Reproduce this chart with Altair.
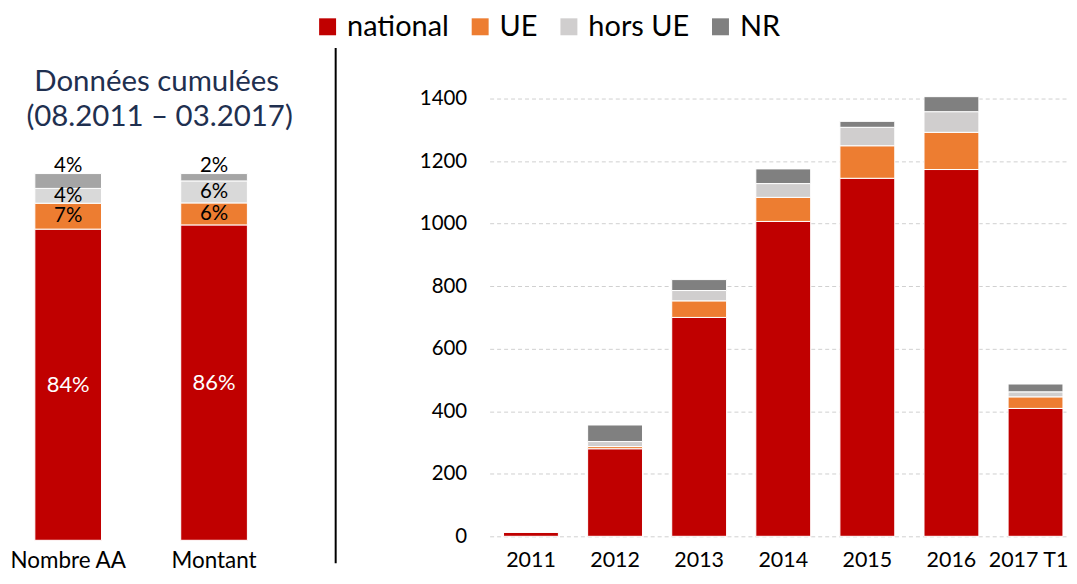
import altair as alt
import pandas as pd

FONT = "Lato"

# ---------------- data ----------------
series = ["national", "UE", "hors UE", "NR"]

left_cats = ["Nombre AA", "Montant"]
nombre_pct = [84, 7, 4, 4]
montant_pct = [86, 6, 6, 2]

years = ["2011", "2012", "2013", "2014", "2015", "2016", "2017 T1"]
national = [14, 280, 700, 1007, 1145, 1173, 409]
ue = [0, 7, 53, 77, 104, 119, 37]
hors_ue = [0, 16, 33, 44, 59, 66, 16]
nr = [0, 53, 35, 47, 19, 48, 25]

title_line1 = "Données cumulées"
title_line2 = "(08.2011 – 03.2017)"

right_colors = ["#C00000", "#ED7D31", "#D0CECE", "#808080"]
left_colors = ["#C00000", "#ED7D31", "#D9D9D9", "#A5A5A5"]

# ---------------- tables ----------------
left_rows = []
for cat, vals in zip(left_cats, [nombre_pct, montant_pct]):
    for i, (s, v) in enumerate(zip(series, vals)):
        left_rows.append({"cat": cat, "serie_l": s, "ord": i, "pct": v})
left_df = pd.DataFrame(left_rows)

right_rows = []
for j, y in enumerate(years):
    for i, (s, vals) in enumerate(zip(series, [national, ue, hors_ue, nr])):
        right_rows.append({"year": y, "serie": s, "ord": i, "val": vals[j]})
right_df = pd.DataFrame(right_rows)

# ---------------- left panel ----------------
LW, LH = 267, 443
LDOM = [0, 1.2046]
left_x = alt.X(
    "cat:N", sort=left_cats,
    scale=alt.Scale(paddingInner=0.543, paddingOuter=0.184),
    axis=alt.Axis(title=None, labelAngle=0, domain=False, ticks=False,
                  labelFontSize=22.5, labelFont=FONT, labelColor="black",
                  labelPadding=9),
)

left_base = (
    alt.Chart(left_df)
    .transform_stack(stack="pct", groupby=["cat"], as_=["y0", "y1"],
                     offset="normalize",
                     sort=[alt.SortField("ord", order="ascending")])
    .transform_calculate(mid="(datum.y0 + datum.y1) / 2",
                         label="datum.pct + '%'")
)

left_bars = left_base.mark_bar(stroke="white", strokeWidth=1).encode(
    x=left_x,
    y=alt.Y("y0:Q", scale=alt.Scale(domain=LDOM), axis=None),
    y2="y1:Q",
    color=alt.Color("serie_l:N", scale=alt.Scale(domain=series, range=left_colors),
                    legend=None),
)

left_text_big = left_base.transform_filter("datum.serie_l == 'national'").mark_text(
    font=FONT, fontSize=22, baseline="middle", color="white"
).encode(
    x=left_x,
    y=alt.Y("mid:Q", scale=alt.Scale(domain=LDOM), axis=None),
    text="label:N",
)

left_text_in = left_base.transform_filter(
    "datum.serie_l == 'UE' || datum.serie_l == 'hors UE'"
).mark_text(
    font=FONT, fontSize=20.5, baseline="middle", color="black"
).encode(
    x=left_x,
    y=alt.Y("mid:Q", scale=alt.Scale(domain=LDOM), axis=None),
    text="label:N",
)

left_text_top = left_base.transform_filter("datum.serie_l == 'NR'").mark_text(
    font=FONT, fontSize=20.5, baseline="middle", dy=-8, color="black"
).encode(
    x=left_x,
    y=alt.Y("y1:Q", scale=alt.Scale(domain=LDOM), axis=None),
    text="label:N",
)

t1 = alt.Chart(pd.DataFrame({"t": [title_line1]})).mark_text(
    font=FONT, fontSize=29.5, color="#1F3050", baseline="middle", align="center"
).encode(text="t:N", x=alt.value(149), y=alt.value(-16.5))
t2 = alt.Chart(pd.DataFrame({"t": [title_line2]})).mark_text(
    font=FONT, fontSize=29.5, color="#1F3050", baseline="middle", align="center"
).encode(text="t:N", x=alt.value(152), y=alt.value(18.5))

left = alt.layer(left_bars, left_text_big, left_text_in, left_text_top, t1, t2).properties(
    width=LW, height=LH
)

# ---------------- right panel ----------------
RW, RH = 578, 439
right_bars = alt.Chart(right_df).mark_bar(stroke="white", strokeWidth=1).encode(
    x=alt.X("year:N", sort=years,
            scale=alt.Scale(paddingInner=0.3476, paddingOuter=0.1008, align=0.82),
            axis=alt.Axis(title=None, labelAngle=0, domain=False, ticks=False,
                          labelFontSize=21.5, labelFont=FONT, labelColor="black",
                          labelPadding=13,
                          labelOffset={"condition": {"test": "datum.label == '2017 T1'",
                                                     "value": -7},
                                       "value": 0})),
    y=alt.Y("val:Q", stack="zero",
            scale=alt.Scale(domain=[0, 1400], nice=False),
            axis=alt.Axis(title=None, values=[0, 200, 400, 600, 800, 1000, 1200, 1400],
                          format="d",
                          grid=True, gridDash=[4, 3], gridColor="#D0D0D0",
                          gridWidth=1, domain=False, ticks=False,
                          labelFontSize=20.5, labelFont=FONT, labelColor="black",
                          labelPadding=23)),
    color=alt.Color("serie:N", scale=alt.Scale(domain=series, range=right_colors),
                    legend=alt.Legend(title=None, orient="none", direction="horizontal",
                                      legendX=-177, legendY=-86.7,
                                      symbolType="square", symbolSize=289,
                                      symbolStrokeWidth=0, symbolOpacity=1,
                                      labelFontSize=29, labelFont=FONT,
                                      labelColor="black", labelOffset=5,
                                      columnPadding=16)),
    order=alt.Order("ord:Q", sort="ascending"),
)

sep = alt.Chart(pd.DataFrame({"a": [0]})).mark_rule(color="black", strokeWidth=2).encode(
    x=alt.value(-154.4), y=alt.value(-50.7), y2=alt.value(466)
)

# invisible top anchor so the legend sits a few pixels below the page top
anchor = alt.Chart(pd.DataFrame({"a": [0]})).mark_rule(strokeOpacity=0).encode(
    x=alt.value(0), x2=alt.value(1), y=alt.value(-89.7)
)

right = alt.layer(right_bars, sep, anchor).properties(width=RW, height=RH)

chart = (
    alt.hconcat(left, right, spacing=216, bounds="flush")
    .resolve_scale(color="independent")
    .properties(padding=0)
    .configure_view(stroke=None)
)

chart.save("out.html", embed_options={"renderer": "svg", "actions": False})
